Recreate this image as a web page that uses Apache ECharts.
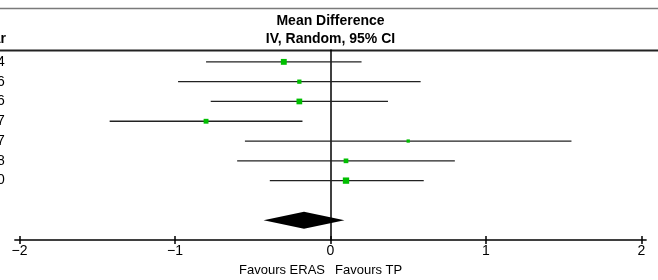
<!DOCTYPE html>
<html><head><meta charset="utf-8">
<script src="https://cdn.jsdelivr.net/npm/echarts@6/dist/echarts.min.js"></script>
<style>html,body{margin:0;padding:0;background:#fff}#c{width:658px;height:280px}</style>
</head><body><div id="c"></div>
<script>
// ---- data ----
const years    = ['2014', '2016', '2016', '2017', '2017', '2018', '2020'];
const meanDiff = [-0.30, -0.20, -0.20, -0.80, 0.50, 0.10, 0.10];
const ciLow    = [-0.80, -0.98, -0.77, -1.42, -0.55, -0.60, -0.39];
const ciHigh   = [ 0.20,  0.58,  0.37, -0.18,  1.55,  0.80,  0.60];
const weights  = [19, 10, 18, 13, 6, 12, 22];          // % weight
const pooled   = { low: -0.43, est: -0.17, high: 0.09 };
const xTicks   = [-2, -1, 0, 1, 2];
const summaryRow = years.length + 2;

const FONT = "'Liberation Sans', Arial, sans-serif";
const rows = years.map((_, i) => i + 1);
const studyData = years.map((_, i) => [rows[i], ciLow[i], meanDiff[i], ciHigh[i], weights[i]]);

const chart = echarts.init(document.getElementById('c'), null, { renderer: 'canvas' });
const axisCommon = { type: 'value', min: -2.03, max: 2.03, splitLine: { show: false } };

chart.setOption({
  animation: false,
  textStyle: { fontFamily: FONT },
  grid: { left: 14.8, right: 11.9, top: 50, bottom: 40, containLabel: false, outerBoundsMode: 'none' },
  xAxis: [
    Object.assign({}, axisCommon, {
      position: 'bottom',
      axisLine: { show: true, onZero: false, lineStyle: { color: '#000', width: 1.5 } },
      axisTick: { show: true, length: 4, customValues: xTicks, lineStyle: { color: '#000', width: 1.5 } },
      axisLabel: { show: true, customValues: xTicks, margin: 4, fontSize: 14, color: '#000',
                   formatter: v => String(v).replace('-', '\u2212') }
    }),
    Object.assign({}, axisCommon, {
      position: 'bottom',
      axisLine: { show: false, onZero: false },
      axisTick: { show: true, inside: true, length: 4, customValues: xTicks, lineStyle: { color: '#000', width: 1.5 } },
      axisLabel: { show: false }
    })
  ],
  yAxis: [
    { type: 'value', inverse: true, min: 0.4, max: 10,
      axisLine: { show: true, onZero: true, lineStyle: { color: '#000', width: 1.5 } },
      axisTick: { show: false }, axisLabel: { show: false }, splitLine: { show: false } },
    { type: 'value', inverse: true, min: 0.4, max: 10, position: 'left',
      axisLine: { show: false, onZero: false }, axisTick: { show: false }, splitLine: { show: false },
      axisLabel: { show: true, customValues: rows, margin: 10, fontSize: 14, color: '#000',
                   formatter: v => years[Math.round(v) - 1] || '' } }
  ],
  graphic: [
    { type: 'line', shape: { x1: 0, y1: 8.5, x2: 658, y2: 8.5 }, style: { stroke: '#7a7a7a', lineWidth: 1.5 } },
    { type: 'line', shape: { x1: 0, y1: 50.5, x2: 658, y2: 50.5 }, style: { stroke: '#222', lineWidth: 2 } },
    { type: 'text', x: 330.5, y: 21.5, style: { text: 'Mean Difference', font: "bold 14px " + FONT, fill: '#000', textAlign: 'center', textVerticalAlign: 'middle' } },
    { type: 'text', x: 330.5, y: 39, style: { text: 'IV, Random, 95% CI', font: "bold 14px " + FONT, fill: '#000', textAlign: 'center', textVerticalAlign: 'middle' } },
    { type: 'text', x: 6, y: 39, style: { text: 'Year', font: "bold 14px " + FONT, fill: '#000', textAlign: 'right', textVerticalAlign: 'middle' } },
    { type: 'text', x: 325, y: 270.5, style: { text: 'Favours ERAS', font: "13px " + FONT, fill: '#000', textAlign: 'right', textVerticalAlign: 'middle' } },
    { type: 'text', x: 335, y: 270.5, style: { text: 'Favours TP', font: "13px " + FONT, fill: '#000', textAlign: 'left', textVerticalAlign: 'middle' } }
  ],
  series: [
    {
      type: 'custom', xAxisIndex: 0, yAxisIndex: 0,
      encode: { x: [1, 2, 3], y: 0 },
      data: studyData,
      renderItem(params, api) {
        const row = api.value(0);
        const pL = api.coord([api.value(1), row]);
        const pE = api.coord([api.value(2), row]);
        const pH = api.coord([api.value(3), row]);
        const s = 1.35 * Math.sqrt(api.value(4));
        return { type: 'group', children: [
          { type: 'line', shape: { x1: pL[0], y1: pL[1], x2: pH[0], y2: pH[1] }, style: { stroke: '#222', lineWidth: 1.3 } },
          { type: 'rect', shape: { x: pE[0] - s / 2, y: pE[1] - s / 2, width: s, height: s }, style: { fill: '#00bf00' } }
        ] };
      }
    },
    {
      type: 'custom', xAxisIndex: 0, yAxisIndex: 0,
      encode: { x: [0, 1, 2], y: 3 },
      data: [[pooled.low, pooled.est, pooled.high, summaryRow]],
      renderItem(params, api) {
        const row = api.value(3);
        const a = api.coord([api.value(0), row]);
        const b = api.coord([api.value(1), row]);
        const c = api.coord([api.value(2), row]);
        const h = 8.5;
        return { type: 'polygon', shape: { points: [[a[0], a[1]], [b[0], b[1] - h], [c[0], c[1]], [b[0], b[1] + h]] },
                 style: { fill: '#000' } };
      }
    }
  ]
});
</script>
</body></html>
